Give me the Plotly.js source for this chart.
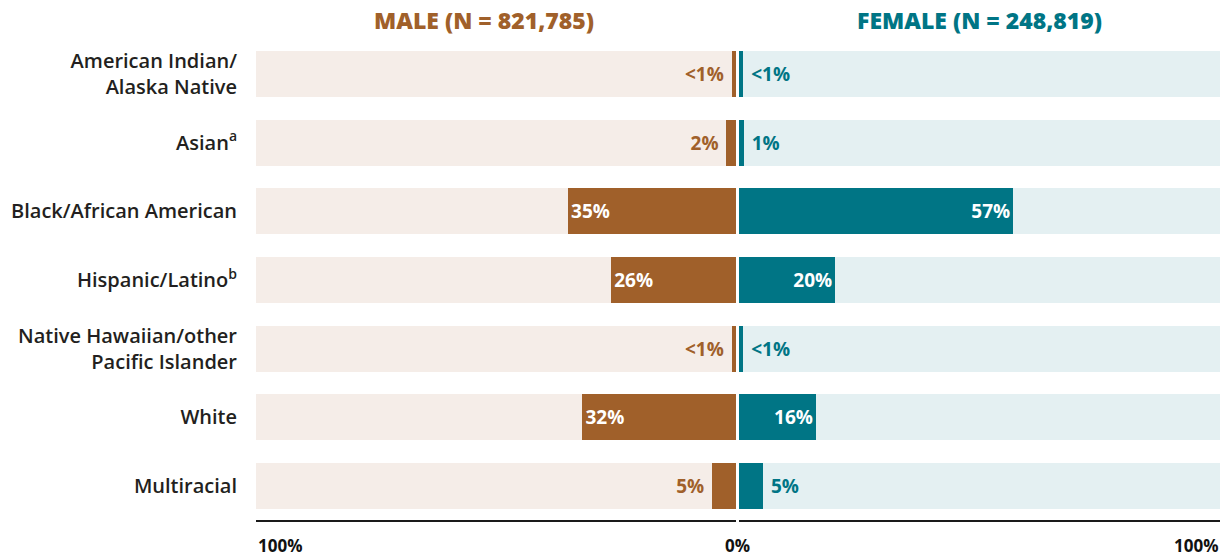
<!DOCTYPE html>
<html>
<head>
<meta charset="utf-8">
<script src="https://cdn.plot.ly/plotly-3.0.1.min.js"></script>
<style>html,body{margin:0;padding:0;background:#fff;}#chart{width:1228px;height:556px;}</style>
</head>
<body>
<div id="chart"></div>
<script>
// ---- data ----
const categories = [
  'American Indian/<br>Alaska Native',
  'Asian<sup>a</sup>',
  'Black/African American',
  'Hispanic/Latino<sup>b</sup>',
  'Native Hawaiian/other<br>Pacific Islander',
  'White',
  'Multiracial'
];
const maleValues   = [0.9, 2, 35, 26, 0.9, 32, 5];
const femaleValues = [0.9, 1, 57, 20, 0.9, 16, 5];
const maleLabels   = ['<1%', '2%', '35%', '26%', '<1%', '32%', '5%'];
const femaleLabels = ['<1%', '1%', '57%', '20%', '<1%', '16%', '5%'];
const maleTitle = 'MALE (N = 821,785)';
const femaleTitle = 'FEMALE (N = 248,819)';
const tickLabels = ['100%', '0%', '100%'];
const fullScale = 100;

// ---- styles ----
const BROWN = '#a0602a', BROWN_BG = '#f5ede8';
const TEAL = '#007585', TEAL_BG = '#e4f0f2';
const FONT = '"Open Sans", Lato, sans-serif';

const track = categories.map(() => fullScale);
const pos = v => v < 8 ? 'outside' : 'inside';
const pad = (s, v, left) => v < 8 ? (left ? s + '\u00a0' : '\u00a0' + s) : s;

const traces = [
  {type:'bar', orientation:'h', y:categories, x:track, xaxis:'x', yaxis:'y',
   marker:{color:BROWN_BG}, width:0.67, hoverinfo:'skip', showlegend:false},
  {type:'bar', orientation:'h', y:categories, x:track, xaxis:'x2', yaxis:'y',
   marker:{color:TEAL_BG}, width:0.67, hoverinfo:'skip', showlegend:false},
  {type:'bar', orientation:'h', y:categories, x:maleValues, xaxis:'x', yaxis:'y',
   marker:{color:BROWN}, width:0.67, showlegend:false,
   text: maleLabels.map((s,i)=>pad(s, maleValues[i], true)),
   textposition: maleValues.map(pos), insidetextanchor:'end', constraintext:'none',
   cliponaxis:false,
   insidetextfont:{family:FONT, size:19, color:'#ffffff', weight:700},
   outsidetextfont:{family:FONT, size:19, color:BROWN, weight:700}},
  {type:'bar', orientation:'h', y:categories, x:femaleValues, xaxis:'x2', yaxis:'y',
   marker:{color:TEAL}, width:0.67, showlegend:false,
   text: femaleLabels.map((s,i)=>pad(s, femaleValues[i], false)),
   textposition: femaleValues.map(pos), insidetextanchor:'end', constraintext:'none',
   cliponaxis:false,
   insidetextfont:{family:FONT, size:19, color:'#ffffff', weight:700},
   outsidetextfont:{family:FONT, size:19, color:TEAL, weight:700}}
];

const axisCommon = {showgrid:false, zeroline:false, showline:true, linecolor:'#1a1a1a',
  linewidth:2, showticklabels:false, ticks:'', fixedrange:true};

const layout = {
  width:1228, height:556,
  margin:{l:256, r:8, t:40, b:36},
  paper_bgcolor:'#ffffff', plot_bgcolor:'rgba(0,0,0,0)',
  barmode:'overlay', bargap:0,
  font:{family:FONT, color:'#231f20'},
  xaxis: Object.assign({}, axisCommon, {domain:[0, 0.498], range:[fullScale, 0]}),
  xaxis2: Object.assign({}, axisCommon, {domain:[0.501, 1], range:[0, fullScale], anchor:'y'}),
  yaxis: {autorange:'reversed', showgrid:false, zeroline:false, showline:false, ticks:'',
    ticklabelstandoff:18, tickfont:{family:FONT, size:20, color:'#231f20', weight:600}, fixedrange:true},
  annotations: [
    {text:maleTitle, xref:'paper', yref:'paper', x:0.2365, y:1, yshift:20, yanchor:'middle', xanchor:'center',
     showarrow:false, font:{family:FONT, size:23, color:BROWN, weight:800}},
    {text:femaleTitle, xref:'paper', yref:'paper', x:0.75, y:1, yshift:20, yanchor:'middle', xanchor:'center',
     showarrow:false, font:{family:FONT, size:23, color:TEAL, weight:800}},
    {text:tickLabels[0], xref:'paper', yref:'paper', x:0, y:0, yshift:-25, xanchor:'left', yanchor:'middle',
     showarrow:false, font:{family:FONT, size:17, color:'#111', weight:700}},
    {text:tickLabels[1], xref:'paper', yref:'paper', x:0.4995, y:0, yshift:-25, xanchor:'center', yanchor:'middle',
     showarrow:false, font:{family:FONT, size:17, color:'#111', weight:700}},
    {text:tickLabels[2], xref:'paper', yref:'paper', x:1, y:0, yshift:-25, xanchor:'right', yanchor:'middle',
     showarrow:false, font:{family:FONT, size:17, color:'#111', weight:700}}
  ]
};

Plotly.newPlot('chart', traces, layout, {displayModeBar:false, staticPlot:true});
</script>
</body>
</html>
